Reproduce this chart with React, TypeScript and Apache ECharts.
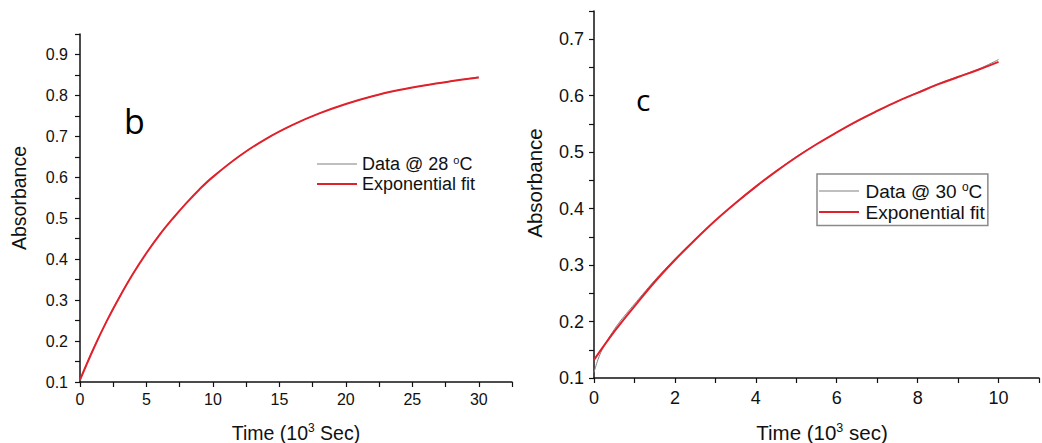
import React, { useEffect, useRef } from "react";
import * as echarts from "echarts";

// ---- Panel b (28 °C) ----
const leftTime = [0, 1, 2, 3, 4, 5, 6, 7, 8, 9, 10, 12, 14, 16, 18, 20, 22, 24, 26, 28, 30];
const leftFit = [0.105, 0.18, 0.248, 0.309, 0.365, 0.415, 0.46, 0.5, 0.537, 0.571, 0.601, 0.652, 0.694, 0.728, 0.756, 0.779, 0.798, 0.813, 0.825, 0.835, 0.844];
const leftData = [0.104, 0.181, 0.248, 0.31, 0.365, 0.415, 0.461, 0.5, 0.537, 0.571, 0.601, 0.652, 0.694, 0.728, 0.756, 0.779, 0.798, 0.813, 0.825, 0.835, 0.845];

// ---- Panel c (30 °C) ----
const rightFitTime = [0, 0.5, 1, 1.5, 2, 2.5, 3, 3.5, 4, 4.5, 5, 5.5, 6, 6.5, 7, 7.5, 8, 8.5, 9, 9.5, 10];
const rightFit = [0.132, 0.182, 0.227, 0.27, 0.309, 0.345, 0.379, 0.41, 0.439, 0.466, 0.491, 0.514, 0.535, 0.555, 0.573, 0.59, 0.605, 0.62, 0.633, 0.646, 0.66];
const rightDataTime = [0, 0.1, 0.2, 0.3, 0.4, 0.6, 0.8, 1.0, 1.2, 1.5, 2, 2.5, 3, 3.5, 4, 4.5, 5, 5.5, 6, 6.5, 7, 7.5, 8, 8.5, 9, 9.5, 10];
const rightData = [0.11, 0.133, 0.15, 0.163, 0.175, 0.196, 0.214, 0.231, 0.248, 0.273, 0.311, 0.346, 0.379, 0.409, 0.438, 0.466, 0.492, 0.514, 0.535, 0.554, 0.572, 0.59, 0.606, 0.621, 0.634, 0.647, 0.664];

const leftSeriesNames = ["Data @ 28 °C", "Exponential fit"];
const rightSeriesNames = ["Data @ 30 °C", "Exponential fit"];
const panelLabels = ["b", "c"];

const FONT = "Liberation Sans";
const RED = "#e0202a";
const GRAY = "#808080";
const INK = "#111";

// legend line icons (invisible move-to points fix the bounding box so the bar stays thin)
const THIN_LINE = "path://M0,0M40,14M0,6.5L40,6.5L40,7.5L0,7.5Z";
const THICK_LINE = "path://M0,0M40,14M0,6L40,6L40,8L0,8Z";

const pairs = (xs: number[], ys: number[]) => xs.map((x, i) => [x, ys[i]]);

const legendFormatter = (name: string) =>
  name.includes("°C")
    ? `{t|${name.replace(" °C", " ")}}{s|o}{t|C}`
    : `{t|${name}}`;

export default function App() {
  const ref = useRef<HTMLDivElement>(null);
  useEffect(() => {
    if (!ref.current) return;
    const chart = echarts.init(ref.current, null, { renderer: "svg" });

    const yAxisCommon = (labelSize: number, margin: number) => ({
      type: "value",
      min: 0.1,
      interval: 0.05,
      splitLine: { show: false },
      axisLine: { show: true, onZero: false, lineStyle: { color: INK, width: 1.5 } },
      axisTick: { show: true, inside: false, length: 5, lineStyle: { color: INK, width: 1.2 } },
      axisLabel: {
        fontFamily: FONT,
        fontSize: labelSize,
        color: INK,
        margin,
        formatter: (v: number) => (Math.round(v * 100) % 10 === 0 ? v.toFixed(1) : ""),
      },
    });

    const option: any = {
      animation: false,
      backgroundColor: "#fff",
      grid: [
        { left: 80, top: 34, width: 432, height: 348, containLabel: false },
        { left: 594, top: 11, width: 455, height: 367, containLabel: false },
      ],
      xAxis: [
        {
          gridIndex: 0,
          type: "value",
          min: 0,
          max: 32.5,
          interval: 2.5,
          splitLine: { show: false },
          axisLine: { show: true, onZero: false, lineStyle: { color: INK, width: 1.5 } },
          axisTick: { show: true, inside: false, length: 5, lineStyle: { color: INK, width: 1.2 } },
          axisLabel: {
            fontFamily: FONT,
            fontSize: 16,
            color: INK,
            margin: 9,
            formatter: (v: number) => (Math.round(v * 10) % 50 === 0 && v <= 30 ? String(v) : ""),
          },
        },
        {
          gridIndex: 1,
          type: "value",
          min: 0,
          max: 11,
          interval: 1,
          splitLine: { show: false },
          axisLine: { show: true, onZero: false, lineStyle: { color: INK, width: 1.5 } },
          axisTick: { show: true, inside: false, length: 5, lineStyle: { color: INK, width: 1.2 } },
          axisLabel: {
            fontFamily: FONT,
            fontSize: 18,
            color: INK,
            margin: 11,
            formatter: (v: number) => (Math.round(v) % 2 === 0 && v <= 10 ? String(v) : ""),
          },
        },
      ],
      yAxis: [
        { gridIndex: 0, max: 0.95, ...yAxisCommon(16, 12) },
        { gridIndex: 1, max: 0.75, ...yAxisCommon(18, 10) },
      ],
      legend: [
        {
          data: [
            { name: leftSeriesNames[0], icon: THIN_LINE },
            { name: leftSeriesNames[1], icon: THICK_LINE },
          ],
          orient: "vertical",
          left: 317,
          top: 154,
          padding: 0,
          itemWidth: 40,
          itemHeight: 14,
          itemGap: 2,
          formatter: legendFormatter,
          textStyle: {
            rich: {
              t: { fontFamily: FONT, fontSize: 18, color: INK, lineHeight: 20 },
              s: { fontFamily: FONT, fontSize: 11, color: INK, verticalAlign: "top", lineHeight: 20 },
            },
          },
        },
        {
          data: [
            { name: rightSeriesNames[0], icon: THIN_LINE },
            { name: rightSeriesNames[1], icon: THICK_LINE },
          ],
          orient: "vertical",
          left: 817,
          top: 174,
          padding: [7, 3, 4, 2],
          borderColor: "#8a8a8a",
          borderWidth: 1.5,
          itemWidth: 43,
          itemHeight: 14,
          itemGap: 2,
          formatter: legendFormatter,
          textStyle: {
            rich: {
              t: { fontFamily: FONT, fontSize: 19, color: INK, lineHeight: 20 },
              s: { fontFamily: FONT, fontSize: 12, color: INK, verticalAlign: "top", lineHeight: 20 },
            },
          },
        },
      ],
      series: [
        {
          name: leftSeriesNames[0],
          type: "line",
          xAxisIndex: 0,
          yAxisIndex: 0,
          data: pairs(leftTime, leftData),
          smooth: 0.4,
          showSymbol: false,
          symbol: "none",
          lineStyle: { color: GRAY, width: 1 },
          itemStyle: { color: GRAY },
        },
        {
          name: leftSeriesNames[1],
          type: "line",
          xAxisIndex: 0,
          yAxisIndex: 0,
          data: pairs(leftTime, leftFit),
          smooth: 0.4,
          showSymbol: false,
          symbol: "none",
          lineStyle: { color: RED, width: 2 },
          itemStyle: { color: RED },
        },
        {
          name: rightSeriesNames[0],
          type: "line",
          xAxisIndex: 1,
          yAxisIndex: 1,
          data: pairs(rightDataTime, rightData),
          smooth: 0.4,
          showSymbol: false,
          symbol: "none",
          lineStyle: { color: GRAY, width: 1 },
          itemStyle: { color: GRAY },
        },
        {
          name: rightSeriesNames[1],
          type: "line",
          xAxisIndex: 1,
          yAxisIndex: 1,
          data: pairs(rightFitTime, rightFit),
          smooth: 0.4,
          showSymbol: false,
          symbol: "none",
          lineStyle: { color: RED, width: 2 },
          itemStyle: { color: RED },
        },
      ],
      graphic: [
        {
          type: "text",
          x: 124,
          y: 121,
          style: { text: panelLabels[0], font: `34px "Open Sans"`, fill: "#000", align: "left", verticalAlign: "middle" },
        },
        {
          type: "text",
          x: 636,
          y: 99,
          style: { text: panelLabels[1], font: `30px "Open Sans"`, fill: "#000", align: "left", verticalAlign: "middle" },
        },
        {
          type: "text",
          x: 19,
          y: 198,
          rotation: Math.PI / 2,
          style: { text: "Absorbance", font: `19.5px "${FONT}"`, fill: INK, align: "center", verticalAlign: "middle" },
        },
        {
          type: "text",
          x: 534,
          y: 183,
          rotation: Math.PI / 2,
          style: { text: "Absorbance", font: `20.5px "${FONT}"`, fill: INK, align: "center", verticalAlign: "middle" },
        },
        {
          type: "text",
          x: 296,
          y: 433,
          style: {
            text: "{a|Time (10}{s|3}{a| Sec)}",
            align: "center",
            verticalAlign: "middle",
            rich: {
              a: { fontFamily: FONT, fontSize: 19.5, fill: INK, color: INK, lineHeight: 22 },
              s: { fontFamily: FONT, fontSize: 12, fill: INK, color: INK, verticalAlign: "top", lineHeight: 22 },
            },
          },
        },
        {
          type: "text",
          x: 822,
          y: 432,
          style: {
            text: "{a|Time (10}{s|3}{a| sec)}",
            align: "center",
            verticalAlign: "middle",
            rich: {
              a: { fontFamily: FONT, fontSize: 20.5, fill: INK, color: INK, lineHeight: 22 },
              s: { fontFamily: FONT, fontSize: 12.5, fill: INK, color: INK, verticalAlign: "top", lineHeight: 22 },
            },
          },
        },
      ],
    };

    chart.setOption(option);
    return () => chart.dispose();
  }, []);

  return (
    <div
      ref={ref}
      style={{ position: "fixed", left: 0, top: 0, width: 1042, height: 443, background: "#fff" }}
    />
  );
}
